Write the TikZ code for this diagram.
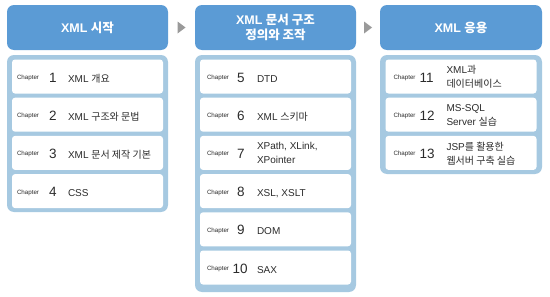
\documentclass[tikz,border=0pt]{standalone}
\usepackage{fontspec}
\setmainfont{Liberation Sans}
\newfontfamily\kr{Noto Sans CJK KR}
\usetikzlibrary{calc}
\definecolor{hdr}{HTML}{5B9BD5}
\definecolor{pnl}{HTML}{A6C9E1}
\definecolor{tri}{HTML}{9A9A9A}
\definecolor{ink}{HTML}{2B2B2B}
\newcommand\choff{5}
\newcommand\txtoff{56}
\newcommand\chapbox[7]{%
  \node[cbox] (#1) at (#2,#3) {};
  \node[chaplbl] (#1l) at ([xshift=\choff pt, yshift=-3pt]#1.west) {Chapter};
  \node[numlbl] (#1n) at ([xshift=#4 pt, yshift=-5.5pt]#1.west) {#5};
  \node[itemlbl, #7] (#1t) at ([xshift=\txtoff pt]#1.west) {#6};
}
\begin{document}
\begin{tikzpicture}[x=1pt,y=-1pt,
  hdrbox/.style={fill=hdr, rounded corners=7pt, minimum height=45pt, inner sep=0pt,
    text=white, align=center, font=\fontsize{12.5}{14.5}\selectfont\bfseries},
  panel/.style={fill=pnl, rounded corners=7pt, inner sep=0pt},
  cbox/.style={fill=white, rounded corners=3pt, minimum width=151pt, minimum height=34pt, inner sep=0pt},
  chaplbl/.style={anchor=base west, inner sep=0pt, text=ink, font=\fontsize{6.2}{7}\selectfont},
  numlbl/.style={anchor=base west, inner sep=0pt, text=ink, font=\fontsize{13.5}{14}\selectfont},
  itemlbl/.style={inner sep=0pt, text=ink, align=left, font=\fontsize{10}{14}\selectfont},
  one/.style={anchor=base west, yshift=-5.5pt},
  two/.style={anchor=west, yshift=-0.5pt},
  arrowtri/.style={fill=tri}
]
\useasboundingbox[fill=white] (0,0) rectangle (550,297);

% headers
\node[hdrbox, minimum width=161pt] (h1) at (87.5,27.5) {XML {\kr 시작}};
\node[hdrbox, minimum width=161pt] (h2) at (275.5,27.5) {XML {\kr 문서 구조}\\{\kr 정의와 조작}};
\node[hdrbox, minimum width=162pt] (h3) at (461,27.5) {XML {\kr 응용}};

% arrows between headers
\fill[arrowtri] ($(h1.east)!0.5!(h2.west)$) ++(-4,-6) -- ++(8,6) -- ++(-8,6) -- cycle;
\fill[arrowtri] ($(h2.east)!0.5!(h3.west)$) ++(-4,-6) -- ++(8,6) -- ++(-8,6) -- cycle;

% panels
\node[panel, minimum width=161pt, minimum height=157pt] (p1) at (87.5,133.5) {};
\node[panel, minimum width=161pt, minimum height=237pt] (p2) at (275.5,173.5) {};
\node[panel, minimum width=162pt, minimum height=119pt] (p3) at (461,114.5) {};

% column 1
\renewcommand\choff{5}\renewcommand\txtoff{56}
\chapbox{c1}{87.5}{76.5}{37}{1}{XML {\kr 개요}}{one}
\chapbox{c2}{87.5}{114.7}{37}{2}{XML {\kr 구조와 문법}}{one}
\chapbox{c3}{87.5}{152.9}{37}{3}{XML {\kr 문서 제작 기본}}{one}
\chapbox{c4}{87.5}{191.1}{37}{4}{CSS}{one}

% column 2
\renewcommand\choff{7}\renewcommand\txtoff{57}
\chapbox{c5}{275.5}{76.5}{37}{5}{DTD}{one}
\chapbox{c6}{275.5}{114.7}{37}{6}{XML {\kr 스키마}}{one}
\chapbox{c7}{275.5}{152.9}{37}{7}{XPath, XLink,\\XPointer}{two}
\chapbox{c8}{275.5}{191.1}{37}{8}{XSL, XSLT}{one}
\chapbox{c9}{275.5}{229.3}{37}{9}{DOM}{one}
\chapbox{c10}{275.5}{267.5}{32.5}{10}{SAX}{one}

% column 3
\renewcommand\choff{8}\renewcommand\txtoff{61}
\chapbox{c11}{461}{76.5}{34}{11}{XML{\kr 과}\\{\kr 데이터베이스}}{two}
\chapbox{c12}{461}{114.7}{34}{12}{MS-SQL\\Server {\kr 실습}}{two}
\chapbox{c13}{461}{152.9}{34}{13}{JSP{\kr 를 활용한}\\{\kr 웹서버 구축 실습}}{two}
\end{tikzpicture}
\end{document}
